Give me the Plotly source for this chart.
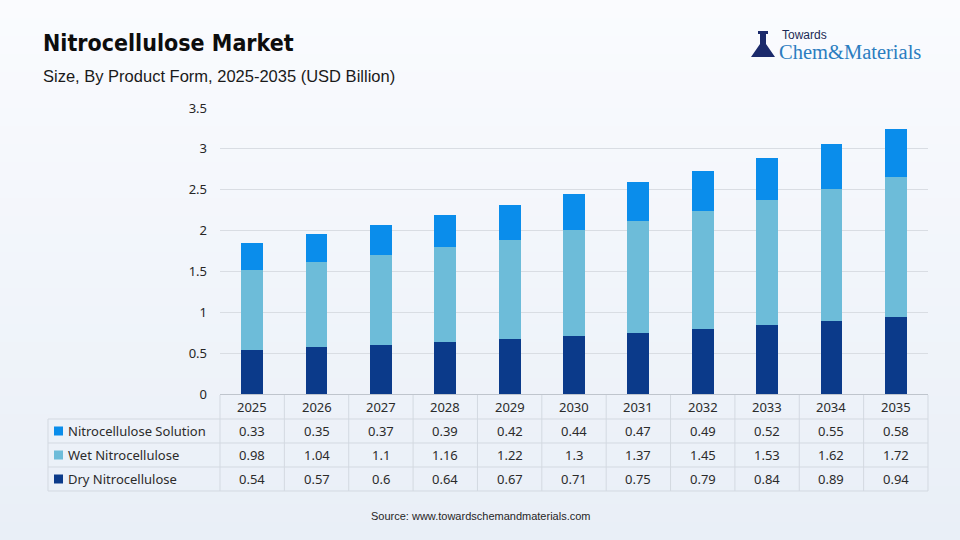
import plotly.graph_objects as go

years = ["2025", "2026", "2027", "2028", "2029", "2030", "2031", "2032", "2033", "2034", "2035"]
solution = [0.33, 0.35, 0.37, 0.39, 0.42, 0.44, 0.47, 0.49, 0.52, 0.55, 0.58]
wet = [0.98, 1.04, 1.1, 1.16, 1.22, 1.3, 1.37, 1.45, 1.53, 1.62, 1.72]
dry = [0.54, 0.57, 0.6, 0.64, 0.67, 0.71, 0.75, 0.79, 0.84, 0.89, 0.94]
y_ticks = [0, 0.5, 1, 1.5, 2, 2.5, 3, 3.5]
y_tick_labels = ["0", "0.5", "1", "1.5", "2", "2.5", "3", "3.5"]

series = [
    ("Dry Nitrocellulose", dry, "#0B3A8A"),
    ("Wet Nitrocellulose", wet, "#6DBCD9"),
    ("Nitrocellulose Solution", solution, "#0A8DEB"),
]
table_rows = [series[2], series[1], series[0]]

W, H = 960, 540
L, R, T, B = 220, 928, 108, 394


def pxx(px):
    return (px - L) / (R - L)


def pxy(py):
    return (B - py) / (B - T)


fig = go.Figure()
for name, vals, col in series:
    fig.add_trace(go.Bar(x=years, y=vals, name=name, marker=dict(color=col, line=dict(width=0))))

shapes = []
annotations = []

# background gradient (vertical bands)
n = 30
top_c = (250, 251, 254)
bot_c = (233, 239, 247)
for i in range(n):
    t = i / (n - 1)
    c = tuple(round(top_c[k] + (bot_c[k] - top_c[k]) * t) for k in range(3))
    shapes.append(dict(type="rect", xref="paper", yref="paper",
                       x0=pxx(0), x1=pxx(W), y0=pxy(H * i / n), y1=pxy(H * (i + 1) / n) - 0.001,
                       fillcolor="rgb(%d,%d,%d)" % c, line=dict(width=0), layer="below"))

line_col = "#D3D9E1"
# table horizontal lines
for py in [419, 443, 467, 491]:
    shapes.append(dict(type="line", xref="paper", yref="paper", x0=pxx(48), x1=pxx(R),
                       y0=pxy(py), y1=pxy(py), line=dict(color=line_col, width=1)))
# left border of label column
shapes.append(dict(type="line", xref="paper", yref="paper", x0=pxx(48), x1=pxx(48),
                   y0=pxy(419), y1=pxy(491), line=dict(color=line_col, width=1)))
# column dividers
ncol = len(years)
for k in range(ncol + 1):
    x = k / ncol
    shapes.append(dict(type="line", xref="paper", yref="paper", x0=x, x1=x,
                       y0=pxy(395), y1=pxy(491), line=dict(color=line_col, width=1)))

tfont = dict(family="Noto Sans, Open Sans, sans-serif", size=13, color="#2B2B2B")
for i, yr in enumerate(years):
    annotations.append(dict(x=i, y=pxy(407), xref="x", yref="paper", text=yr, showarrow=False,
                            font=tfont, xanchor="center", yanchor="middle"))

row_y = [431, 455, 479]
for (name, vals, col), py in zip(table_rows, row_y):
    shapes.append(dict(type="rect", xref="paper", yref="paper", x0=pxx(54), x1=pxx(63),
                       y0=pxy(py + 4.5), y1=pxy(py - 4.5), fillcolor=col, line=dict(width=0)))
    annotations.append(dict(x=pxx(66), y=pxy(py), xref="paper", yref="paper", text=name,
                            showarrow=False, font=tfont, xanchor="left", yanchor="middle"))
    for i, v in enumerate(vals):
        annotations.append(dict(x=i, y=pxy(py), xref="x", yref="paper", text=f"{v:g}",
                                showarrow=False, font=tfont, xanchor="center", yanchor="middle"))

# title and subtitle
annotations.append(dict(x=pxx(41), y=pxy(43), xref="paper", yref="paper",
                        text="Nitrocellulose Market", showarrow=False, xanchor="left", yanchor="middle",
                        font=dict(family="Liberation Sans Narrow, DejaVu Sans Condensed, sans-serif",
                                  size=23, color="#0D0D0D", weight=800)))
annotations.append(dict(x=pxx(41), y=pxy(76), xref="paper", yref="paper",
                        text="Size, By Product Form, 2025-2035 (USD Billion)", showarrow=False,
                        xanchor="left", yanchor="middle",
                        font=dict(family="Liberation Sans, Arial, sans-serif", size=16.5, color="#1A1A1A")))

# logo
annotations.append(dict(x=pxx(780), y=pxy(35), xref="paper", yref="paper", text="Towards",
                        showarrow=False, xanchor="left", yanchor="middle",
                        font=dict(family="Liberation Sans, Arial, sans-serif", size=12, color="#1B2A55")))
annotations.append(dict(x=pxx(777), y=pxy(51.5), xref="paper", yref="paper", text="Chem&amp;Materials",
                        showarrow=False, xanchor="left", yanchor="middle",
                        font=dict(family="Liberation Serif, DejaVu Serif, serif", size=20.5, color="#2B7DC0")))
# flask icon
fx = [pxx(v) for v in (760, 766, 766, 775, 751, 760)]
fy = [pxy(v) for v in (34, 34, 44, 57, 57, 44)]
path = "M %f,%f L %f,%f L %f,%f L %f,%f L %f,%f L %f,%f Z" % (
    fx[0], fy[0], fx[1], fy[1], fx[2], fy[2], fx[3], fy[3], fx[4], fy[4], fx[5], fy[5])
shapes.append(dict(type="path", xref="paper", yref="paper", path=path,
                   fillcolor="#1B2A6B", line=dict(width=0)))
shapes.append(dict(type="rect", xref="paper", yref="paper", x0=pxx(758), x1=pxx(768),
                   y0=pxy(34), y1=pxy(31), fillcolor="#1B2A6B", line=dict(width=0)))

# source
annotations.append(dict(x=pxx(480), y=pxy(516), xref="paper", yref="paper",
                        text="Source: www.towardschemandmaterials.com", showarrow=False,
                        xanchor="center", yanchor="middle",
                        font=dict(family="Liberation Sans, Arial, sans-serif", size=11, color="#262626")))

fig.update_layout(
    width=W, height=H,
    margin=dict(l=L, r=W - R, t=T, b=H - B, pad=0),
    barmode="stack", bargap=0.66,
    showlegend=False,
    paper_bgcolor="#F1F5FB", plot_bgcolor="rgba(0,0,0,0)",
    shapes=shapes, annotations=annotations,
    xaxis=dict(type="category", categoryorder="array", categoryarray=years,
               range=[-0.5, len(years) - 0.5], autorange=False,
               showticklabels=False, showgrid=False, zeroline=False, showline=True,
               linecolor="#BFC5CD", linewidth=1, ticks=""),
    yaxis=dict(range=[0, 3.5], tickvals=y_ticks, ticktext=y_tick_labels, showgrid=True,
               gridcolor="#D9DDE3", gridwidth=1, zeroline=False, showline=False, ticks="",
               ticklabelstandoff=12,
               tickfont=dict(family="Noto Sans, Open Sans, sans-serif", size=13, color="#262626")),
)

fig.write_html("out.html")
